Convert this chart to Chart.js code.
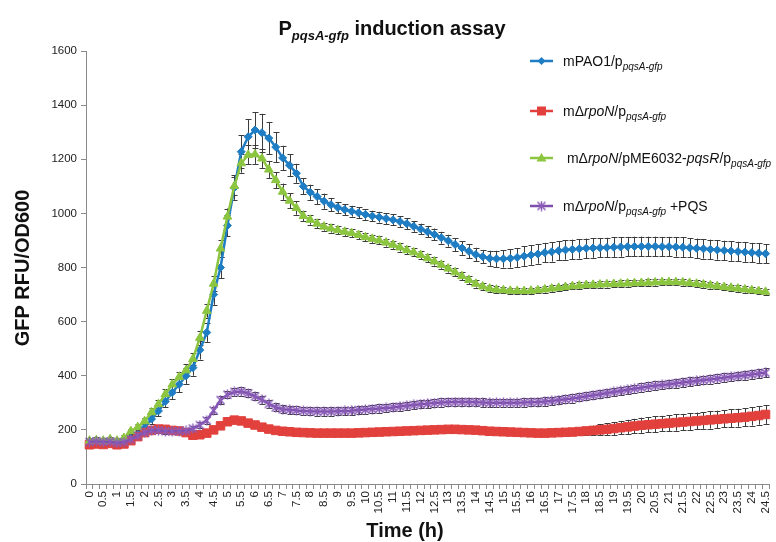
<!DOCTYPE html>
<html>
<head>
<meta charset="utf-8">
<script src="https://cdn.jsdelivr.net/npm/chart.js@4.4.1/dist/chart.umd.min.js"></script>
<style>
  html, body { margin: 0; padding: 0; background: #fff; }
  #wrap { width: 776px; height: 542px; }
</style>
</head>
<body>
<div id="wrap"><canvas id="induction-chart" width="776" height="542"></canvas></div>
<script>
// Time points (h), one every 15 min
let timePoints = ["0","0.25","0.5","0.75","1","1.25","1.5","1.75","2","2.25","2.5","2.75","3","3.25","3.5","3.75",
  "4","4.25","4.5","4.75","5","5.25","5.5","5.75","6","6.25","6.5","6.75","7","7.25","7.5","7.75",
  "8","8.25","8.5","8.75","9","9.25","9.5","9.75","10","10.25","10.5","10.75","11","11.25","11.5","11.75",
  "12","12.25","12.5","12.75","13","13.25","13.5","13.75","14","14.25","14.5","14.75","15","15.25","15.5","15.75",
  "16","16.25","16.5","16.75","17","17.25","17.5","17.75","18","18.25","18.5","18.75","19","19.25","19.5","19.75",
  "20","20.25","20.5","20.75","21","21.25","21.5","21.75","22","22.25","22.5","22.75","23","23.25","23.5","23.75",
  "24","24.25","24.5"];

// Labelled ticks on the time axis
let timeTickLabels = ["0","0.5","1","1.5","2","2.5","3","3.5","4","4.5","5","5.5","6","6.5","7","7.5","8","8.5","9","9.5",
  "10","10.5","11","11.5","12","12.5","13","13.5","14","14.5","15","15.5","16","16.5","17","17.5","18","18.5","19","19.5",
  "20","20.5","21","21.5","22","22.5","23","23.5","24","24.5"];

// mPAO1/p pqsA-gfp
let paoValues = [155,158,155,157,152,155,168,182,208,240,270,305,338,368,400,430,
  495,560,700,800,955,1095,1228,1283,1308,1298,1278,1245,1205,1178,1148,1100,
  1078,1062,1045,1032,1022,1014,1008,1002,996,990,986,981,976,970,962,952,
  942,932,922,910,899,885,872,860,848,840,834,832,832,834,837,842,
  846,850,855,858,862,865,867,869,871,872,873,874,875,876,877,878,
  878,878,878,877,877,876,875,873,871,869,867,865,863,861,859,857,
  855,853,851];
let paoErrors = [10,10,10,10,10,10,12,14,15,18,20,22,25,28,30,30,
  35,35,38,40,40,45,60,65,65,70,60,55,45,40,35,30,
  28,28,28,25,20,20,20,20,20,20,20,20,20,20,20,20,
  20,20,22,22,22,24,25,25,25,25,28,30,32,34,35,36,
  36,36,36,36,36,36,36,36,36,36,36,36,36,36,36,36,
  36,36,36,36,36,36,36,36,36,36,36,36,36,36,36,36,
  36,36,36];

// mΔrpoN/p pqsA-gfp
let rpoNValues = [145,148,146,150,145,148,160,175,190,198,203,202,198,196,190,180,
  182,188,200,215,230,236,233,225,218,210,203,198,195,193,191,190,
  189,188,188,188,188,188,188,189,190,191,192,193,194,195,196,197,
  198,199,200,201,202,202,201,200,199,197,195,194,193,192,191,190,
  189,188,188,189,190,191,192,194,196,198,200,202,205,208,211,214,
  217,219,221,223,225,227,229,231,233,235,237,239,241,243,245,247,
  250,253,257];
let rpoNErrors = [5,5,5,5,5,5,5,5,5,5,5,5,5,5,5,5,
  5,5,5,5,5,5,5,5,5,5,5,5,5,5,5,5,
  5,5,5,5,5,5,5,5,5,5,5,5,5,5,5,5,
  5,5,5,5,5,5,5,5,5,5,5,5,5,5,5,5,
  6,6,6,8,8,10,12,14,16,18,20,22,24,25,26,27,
  28,28,29,29,30,30,30,31,31,31,32,32,32,33,33,33,
  34,34,35];

// mΔrpoN/pME6032-pqsR/p pqsA-gfp
let pqsRValues = [160,162,160,165,160,170,195,210,232,265,295,332,368,395,420,462,
  540,640,740,870,988,1101,1185,1216,1218,1203,1162,1123,1080,1047,1020,990,
  976,962,951,944,938,932,927,920,912,906,900,892,884,874,864,856,
  846,834,822,810,796,782,768,754,740,730,722,718,716,714,713,713,
  714,716,719,722,725,728,731,733,735,736,737,738,739,740,741,742,
  743,744,745,746,746,746,745,743,740,737,734,731,728,725,722,719,
  716,713,710];
let pqsRErrors = [10,10,10,10,10,10,10,10,12,14,15,18,20,20,22,22,
  25,25,28,30,30,32,35,35,35,35,32,30,30,28,25,20,
  18,16,15,15,15,15,15,15,15,15,15,15,15,15,15,15,
  15,15,15,15,15,15,15,15,14,13,12,12,12,12,12,12,
  12,12,12,12,12,12,12,12,12,12,12,12,12,12,12,12,
  12,12,12,12,12,12,12,12,12,12,12,12,12,12,12,12,
  12,12,12];

// mΔrpoN/p pqsA-gfp +PQS
let pqsValues = [155,158,155,157,152,155,165,178,190,198,198,195,195,195,197,205,
  218,235,272,310,330,340,342,335,324,312,296,283,276,274,272,270,
  269,268,268,268,269,270,271,273,275,277,279,281,283,286,289,292,
  295,297,299,301,302,303,303,303,302,301,300,300,300,300,300,301,
  302,303,305,307,310,313,316,320,324,328,332,336,340,344,348,352,
  356,360,363,366,369,372,375,378,381,384,387,390,393,396,399,402,
  405,408,411];
let pqsErrors = [10,10,10,10,10,10,10,10,10,10,10,10,10,10,10,10,
  12,12,12,14,14,14,15,15,15,15,15,15,15,15,15,15,
  15,15,15,15,15,15,15,15,15,15,15,15,15,15,15,15,
  15,15,15,15,15,15,15,15,15,15,15,15,15,15,15,15,
  15,15,15,15,15,15,15,15,15,15,15,15,15,15,15,15,
  16,16,16,16,16,16,16,16,16,16,16,16,16,16,16,16,
  16,16,16];

let yTicks = [0, 200, 400, 600, 800, 1000, 1200, 1400, 1600];

const fontFamily = "'Liberation Sans', Arial, sans-serif";
const blueColor = "#1f7dc4";
const redColor = "#e2403c";
const greenColor = "#8cc540";
const purpleColor = "#7f4fae";
const axisColor = "#8a8a8a";

// Excel-like star marker (x with a vertical stroke)
const starMarker = document.createElement("canvas");
starMarker.width = 11;
starMarker.height = 11;
(() => {
  const c = starMarker.getContext("2d");
  c.strokeStyle = "#8a5cb8";
  c.lineWidth = 1.5;
  c.beginPath();
  c.moveTo(1.5, 1.5); c.lineTo(9.5, 9.5);
  c.moveTo(9.5, 1.5); c.lineTo(1.5, 9.5);
  c.moveTo(5.5, 0.5); c.lineTo(5.5, 10.5);
  c.stroke();
})();

// text with mixed fonts (for subscripts / italics)
const drawRuns = (ctx, runs, x, y, align) => {
  let total = 0;
  runs.forEach((r) => { ctx.font = r.font; total += ctx.measureText(r.t).width; });
  let cx = align === "center" ? x - total / 2 : x;
  runs.forEach((r) => {
    ctx.font = r.font;
    ctx.fillText(r.t, cx, y + (r.dy || 0));
    cx += ctx.measureText(r.t).width;
  });
};

const norm = `14px ${fontFamily}`;
const ital = `italic 14px ${fontFamily}`;
const sub = { t: "pqsA-gfp", font: `italic 10px ${fontFamily}`, dy: 4 };

let legendItems = [
  { color: blueColor, marker: "diamond", runs: [{ t: "mPAO1/p", font: norm }, sub] },
  { color: redColor, marker: "square", runs: [{ t: "m\u0394", font: norm }, { t: "rpoN", font: ital }, { t: "/p", font: norm }, sub] },
  { color: greenColor, marker: "triangle", runs: [{ t: " m\u0394", font: norm }, { t: "rpoN", font: ital }, { t: "/pME6032-", font: norm }, { t: "pqsR", font: ital }, { t: "/p", font: norm }, sub] },
  { color: purpleColor, marker: "star", runs: [{ t: "m\u0394", font: norm }, { t: "rpoN", font: ital }, { t: "/p", font: norm }, sub, { t: " +PQS", font: norm }] },
];

const textPlugin = {
  id: "textPlugin",
  afterDraw: (chart) => {
    const { ctx } = chart;
    ctx.save();
    ctx.fillStyle = "#111";
    ctx.textBaseline = "alphabetic";

    // title
    drawRuns(ctx, [
      { t: "P", font: `bold 20px ${fontFamily}` },
      { t: "pqsA-gfp", font: `bold italic 13px ${fontFamily}`, dy: 5 },
      { t: " induction assay", font: `bold 20px ${fontFamily}` },
    ], 392, 35, "center");

    // axis titles
    ctx.font = `bold 20px ${fontFamily}`;
    ctx.textAlign = "center";
    ctx.fillText("Time (h)", 405, 537);
    ctx.save();
    ctx.translate(29, 268);
    ctx.rotate(-Math.PI / 2);
    ctx.fillText("GFP RFU/OD600", 0, 0);
    ctx.restore();
    ctx.textAlign = "left";

    // legend
    let legendY = [61, 111, 158, 206];
    legendItems.forEach((item, i) => {
      let y = legendY[i];
      ctx.strokeStyle = item.color;
      ctx.lineWidth = 2.5;
      ctx.beginPath();
      ctx.moveTo(530, y);
      ctx.lineTo(553, y);
      ctx.stroke();
      ctx.fillStyle = item.color;
      let mx = 541.5;
      ctx.beginPath();
      if (item.marker === "diamond") {
        ctx.moveTo(mx, y - 4); ctx.lineTo(mx + 4, y); ctx.lineTo(mx, y + 4); ctx.lineTo(mx - 4, y);
        ctx.fill();
      } else if (item.marker === "square") {
        ctx.rect(mx - 4.5, y - 4.5, 9, 9);
        ctx.fill();
      } else if (item.marker === "triangle") {
        ctx.moveTo(mx, y - 5); ctx.lineTo(mx + 5, y + 3.5); ctx.lineTo(mx - 5, y + 3.5);
        ctx.fill();
      } else {
        ctx.drawImage(starMarker, mx - 5.5, y - 5.5);
      }
      ctx.fillStyle = "#111";
      drawRuns(ctx, item.runs, 563, y + 5, "left");
    });
    ctx.restore();
  },
};

const errorBarPlugin = {
  id: "errorBarPlugin",
  beforeDatasetsDraw: (chart) => {
    const { ctx } = chart;
    const yScale = chart.scales.y;
    ctx.save();
    ctx.strokeStyle = "#3c3c3c";
    ctx.lineWidth = 1;
    chart.data.datasets.forEach((ds, di) => {
      const meta = chart.getDatasetMeta(di);
      meta.data.forEach((pt, i) => {
        let err = ds.errors[i];
        let yTop = yScale.getPixelForValue(ds.data[i] + err);
        let yBot = yScale.getPixelForValue(ds.data[i] - err);
        let x = Math.round(pt.x) + 0.5;
        ctx.beginPath();
        ctx.moveTo(x, yTop); ctx.lineTo(x, yBot);
        ctx.moveTo(x - 3, Math.round(yTop) + 0.5); ctx.lineTo(x + 3, Math.round(yTop) + 0.5);
        ctx.moveTo(x - 3, Math.round(yBot) + 0.5); ctx.lineTo(x + 3, Math.round(yBot) + 0.5);
        ctx.stroke();
      });
    });
    ctx.restore();
  },
};

const seriesStyle = (color, style, radius, order) => ({
  borderColor: color,
  backgroundColor: color,
  pointBackgroundColor: color,
  pointBorderColor: color,
  pointBorderWidth: 1,
  pointStyle: style,
  pointRadius: radius,
  borderWidth: 2.5,
  tension: 0,
  order: order,
});

let inductionChart = document.getElementById("induction-chart");
new Chart(inductionChart, {
  type: "line",
  data: {
    labels: timePoints,
    datasets: [
      { label: "mPAO1", data: paoValues, errors: paoErrors, ...seriesStyle(blueColor, "rectRot", 4, 4) },
      { label: "rpoN", data: rpoNValues, errors: rpoNErrors, ...seriesStyle(redColor, "rect", 6, 3) },
      { label: "rpoN pqsR", data: pqsRValues, errors: pqsRErrors, ...seriesStyle(greenColor, "triangle", 5, 2) },
      { label: "rpoN PQS", data: pqsValues, errors: pqsErrors, ...seriesStyle(purpleColor, starMarker, 5, 1) },
    ],
  },
  plugins: [errorBarPlugin, textPlugin],
  options: {
    responsive: false,
    animation: false,
    devicePixelRatio: 1,
    layout: { padding: { top: 51, right: 1, left: 0, bottom: 0 } },
    plugins: {
      legend: { display: false },
      tooltip: { enabled: false },
    },
    scales: {
      x: {
        type: "category",
        offset: true,
        border: { color: axisColor, width: 1 },
        grid: { drawOnChartArea: false, drawTicks: true, tickLength: 5, color: axisColor, offset: true },
        ticks: {
          autoSkip: false,
          maxRotation: 90,
          minRotation: 90,
          padding: 2,
          color: "#222",
          font: { family: fontFamily, size: 11.5 },
          callback: function (value, index) {
            let label = this.getLabelForValue(value);
            return timeTickLabels.includes(label) ? label : "";
          },
        },
        afterFit: (scale) => {
          scale.height = 58;
          scale.paddingLeft = 0;
          scale.paddingRight = 0;
        },
      },
      y: {
        min: 0,
        max: 1600,
        border: { color: axisColor, width: 1 },
        grid: { drawOnChartArea: false, drawTicks: true, tickLength: 5, color: axisColor },
        ticks: {
          stepSize: 200,
          padding: 4,
          color: "#222",
          font: { family: fontFamily, size: 11.5 },
          callback: (value) => String(value),
        },
        afterBuildTicks: (scale) => { scale.ticks = yTicks.map((v) => ({ value: v })); },
        afterFit: (scale) => { scale.width = 86; },
      },
    },
  },
});
</script>
</body>
</html>
